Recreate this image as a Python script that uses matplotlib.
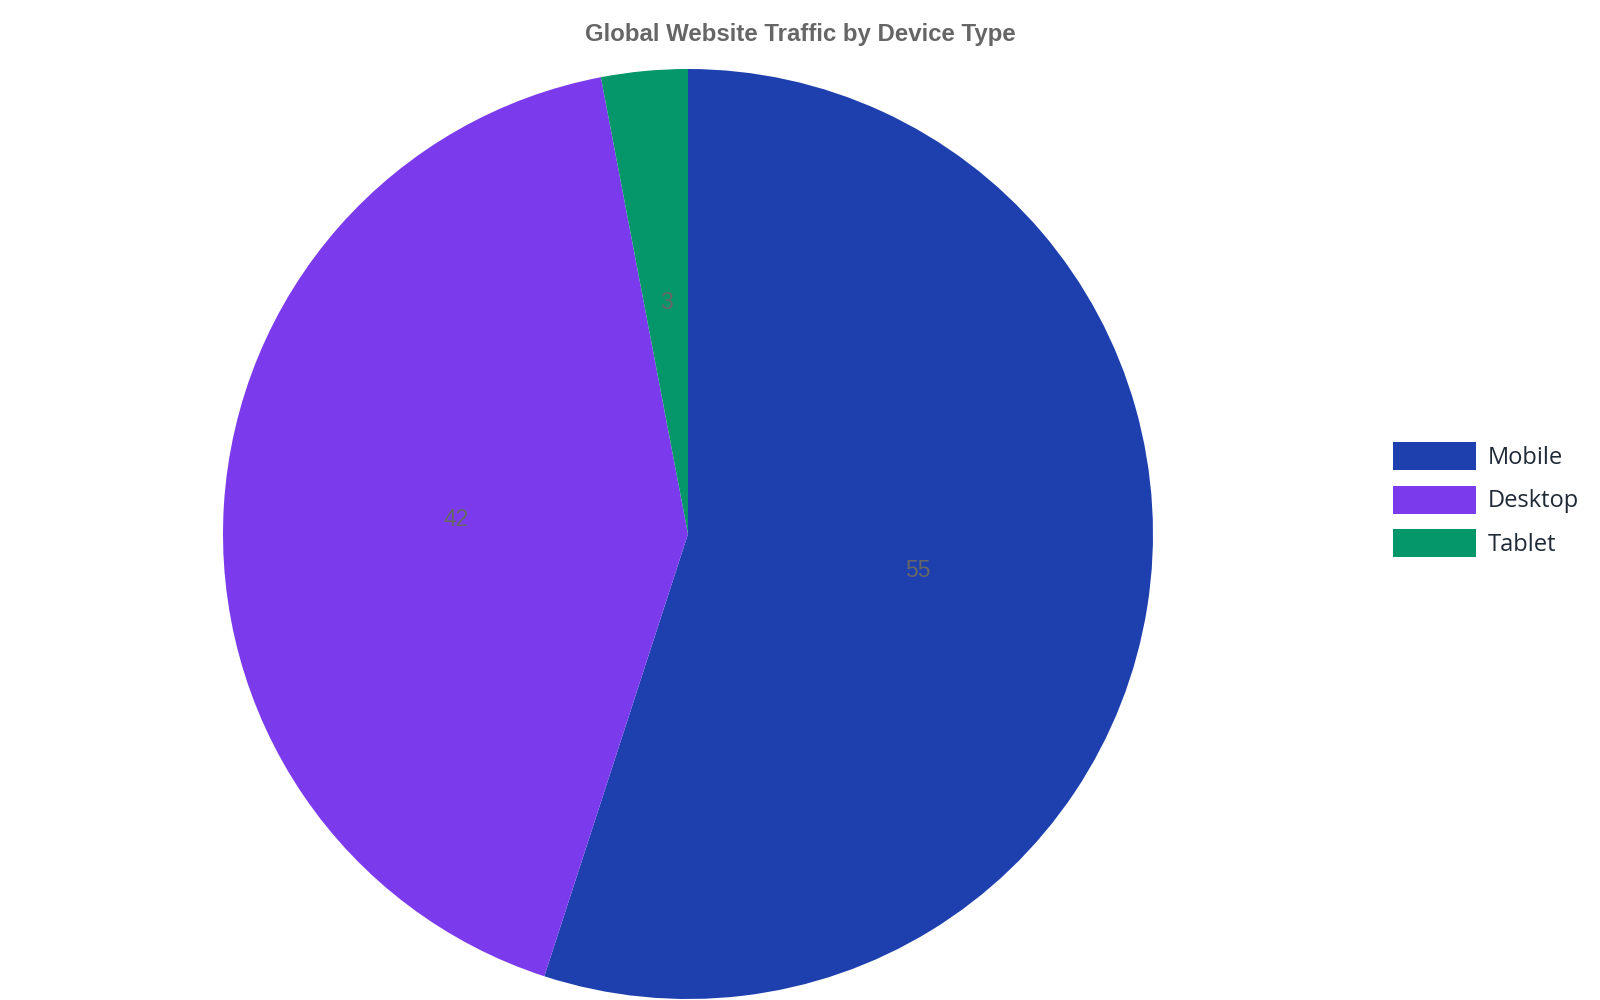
import matplotlib
matplotlib.use("Agg")
import matplotlib.pyplot as plt
from matplotlib.patches import Patch

categories = ["Mobile", "Desktop", "Tablet"]
values = [55, 42, 3]
colors = ["#1e40af", "#7c3aed", "#059669"]
title = "Global Website Traffic by Device Type"

W, H = 1600, 1000
fig = plt.figure(figsize=(16, 10), dpi=100)
fig.patch.set_facecolor("white")

cx, cy, r = 688, 534, 465
ax = fig.add_axes([(cx - r) / W, (H - cy - r) / H, 2 * r / W, 2 * r / H])
wedges, texts = ax.pie(values, colors=colors, startangle=90, counterclock=False,
                       labels=[str(v) for v in values], labeldistance=0.5,
                       wedgeprops=dict(linewidth=0),
                       textprops=dict(color="#666666", fontsize=16.5,
                                      family="Liberation Sans"))
for t in texts:
    t.set_ha("center")
    t.set_va("center")
ax.set_xlim(-1, 1)
ax.set_ylim(-1, 1)
ax.set_aspect("equal")
ax.axis("off")

fig.text(0.5, 1 - 35 / H, title, ha="center", va="center",
         fontsize=17.3, fontweight="bold", color="#666666", family="Liberation Sans")

handles = [Patch(facecolor=c, edgecolor="none", label=l) for c, l in zip(colors, categories)]
fs = 17
fspx = fs * 100 / 72
hh = (28 / fspx - 0.245) / 0.65
leg = fig.legend(handles=handles, loc="center left",
                 bbox_to_anchor=(1393 / W, 1 - 499.5 / H), frameon=False,
                 prop=dict(family="Open Sans", size=fs),
                 handlelength=83 / fspx, handleheight=hh,
                 handletextpad=0.49, labelspacing=0.66, borderpad=0, borderaxespad=0)
for t in leg.get_texts():
    t.set_color("#1f2937")

fig.savefig("out.png", dpi=100, facecolor="white")
